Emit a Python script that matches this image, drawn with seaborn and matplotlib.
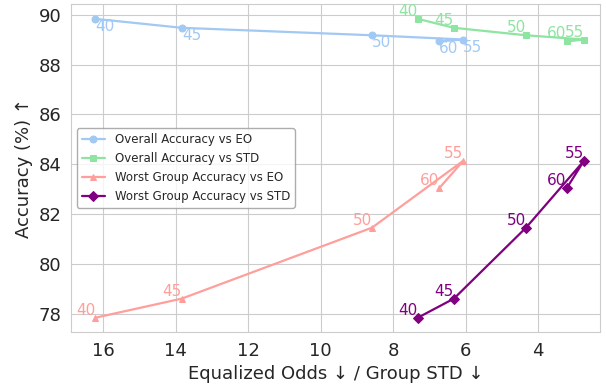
import matplotlib
matplotlib.use("Agg")
import matplotlib.pyplot as plt
import pandas as pd
import seaborn as sns

# pruning ratios (labels on the points), in drawing order
ratios = ["40", "45", "50", "55", "60"]

overall_acc = [89.84, 89.48, 89.18, 89.01, 88.93]
worst_acc = [77.83, 78.60, 81.45, 84.14, 83.03]
eo = [16.22, 13.83, 8.58, 6.06, 6.73]
std = [7.32, 6.32, 4.33, 2.73, 3.21]

series = [
    ("Overall Accuracy vs EO", eo, overall_acc, "#a1c9f4", "o", "left", "top"),
    ("Overall Accuracy vs STD", std, overall_acc, "#8de5a1", "s", "right", "bottom"),
    ("Worst Group Accuracy vs EO", eo, worst_acc, "#ff9f9b", "^", "right", "bottom"),
    ("Worst Group Accuracy vs STD", std, worst_acc, "purple", "D", "right", "bottom"),
]

sns.set_style("whitegrid")
fig, ax = plt.subplots(figsize=(6.06, 3.91), dpi=100)

for name, xs, ys, color, marker, ha, va in series:
    df = pd.DataFrame({"x": xs, "y": ys, "r": ratios})
    sns.lineplot(x="x", y="y", data=df, ax=ax, sort=False, estimator=None,
                 color=color, marker=marker, markersize=5, linewidth=1.6,
                 markeredgecolor=color, label=name)
    for _, row in df.iterrows():
        ax.text(row["x"], row["y"], row["r"], color=color, fontsize=11,
                ha=ha, va=va)

ax.set_xlim(16.89, 2.29)
ax.set_ylim(77.26, 90.44)
ax.set_yticks([78, 80, 82, 84, 86, 88, 90])
ax.set_xticks([16, 14, 12, 10, 8, 6, 4])
ax.tick_params(labelsize=13)
ax.set_xlabel("Equalized Odds ↓ / Group STD ↓", fontsize=13)
ax.set_ylabel("Accuracy (%) ↑", fontsize=13)
for s in ax.spines.values():
    s.set_visible(True)
    s.set_color("#cccccc")

ax.legend(loc="center left", fontsize=8.5, frameon=True, edgecolor="#999999")

fig.subplots_adjust(left=0.117, right=0.990, top=0.990, bottom=0.151)
fig.savefig("out.png", dpi=100)
